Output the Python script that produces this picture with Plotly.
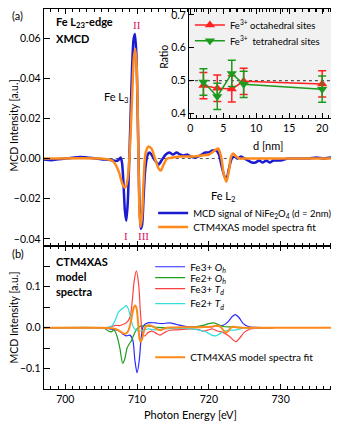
import plotly.graph_objects as go

# the page body adds an 8 px margin, so the figure is drawn 8 px in and 8 px smaller
OFF = 8
W, H = 339 - OFF, 425 - OFF

# ---------------- panel (a): measured XMCD and CTM4XAS fit ----------------
e_mcd = [697, 698, 699, 700, 701, 702, 703, 704, 705, 706, 706.5, 707, 707.4, 707.7,
         707.9, 708.1, 708.3, 708.5, 708.7, 708.9, 709.1, 709.3, 709.5, 709.7, 709.9,
         710.1, 710.3, 710.5, 710.7, 710.9, 711.1, 711.4, 711.7, 712.0, 712.5, 713.0,
         713.4, 714, 714.5, 715, 715.5, 716, 716.5, 717, 717.5, 718, 718.5, 719, 719.5,
         720, 720.5, 721, 721.4, 721.8, 722.2, 722.5, 722.8, 723.2, 723.6, 724, 724.5,
         725, 725.5, 726, 726.5, 727, 727.5, 728, 728.5, 729, 730, 731, 732, 733, 734,
         735, 736, 737, 738]
mcd = [-0.0005, -0.0008, -0.0004, 0.0, 0.0004, 0.0008, 0.0005, 0.0002, -0.0003, -0.0006,
       -0.0008, -0.0012, -0.0008, 0.0005, -0.002, -0.012, -0.026, -0.031, -0.022, -0.002,
       0.022, 0.045, 0.059, 0.062, 0.052, 0.020, -0.018, -0.035, -0.033, -0.020, -0.007,
       0.001, 0.003, 0.002, -0.001, -0.003, -0.001, 0.002, 0.003, 0.002, 0.003, 0.002,
       0.0015, 0.002, 0.001, 0.0005, 0.001, 0.002, 0.003, 0.003, 0.004, 0.004, 0.002,
       -0.004, -0.009, -0.0095, -0.005, 0.0, 0.001, 0.0, 0.001, 0.0, -0.001, -0.002,
       -0.002, -0.001, -0.002, -0.001, -0.002, -0.001, -0.001, 0.0, 0.0, 0.0, 0.0,
       0.0005, 0.0, 0.0005, 0.0]

e_fit = [697, 705, 706, 706.5, 707, 707.5, 708, 708.35, 708.7, 709.0, 709.3, 709.55,
         709.75, 709.95, 710.15, 710.35, 710.5, 710.7, 710.9, 711.2, 711.6, 712.0, 712.5,
         713.0, 713.3, 713.7, 714.2, 715, 716, 717, 718, 719, 720, 720.8, 721.3, 721.7,
         722.1, 722.45, 722.8, 723.1, 723.4, 723.8, 724.3, 725, 738]
fit = [0.0, 0.0, -0.0005, -0.001, -0.003, -0.007, -0.013, -0.0145, -0.010, 0.005, 0.030,
       0.050, 0.0546, 0.045, 0.010, -0.028, -0.034, -0.028, -0.012, 0.003, 0.006, 0.005,
       0.0, -0.005, -0.006, -0.003, 0.0, 0.0005, 0.001, 0.001, 0.001, 0.0015, 0.002, 0.004,
       0.005, 0.001, -0.008, -0.0115, -0.006, 0.001, 0.0025, 0.001, 0.0, 0.0, 0.0]

# ---------------- panel (b): CTM4XAS model components ----------------
e_fe3_oh = [697, 705, 706, 707, 707.5, 708, 708.5, 709, 709.4, 709.7, 710.0, 710.3, 710.6,
            710.9, 711.5, 712.5, 713.5, 714.5, 715.5, 716.5, 717.5, 719, 720, 721, 722,
            722.7, 723.3, 723.7, 724.2, 724.8, 725.5, 726.5, 729]
fe3_oh = [0.0, 0.0, -0.002, -0.005, -0.008, -0.015, -0.020, -0.018, -0.030, -0.080, -0.110,
          -0.080, -0.020, 0.005, 0.012, 0.012, 0.010, 0.012, 0.008, 0.004, 0.002, 0.001,
          0.002, 0.004, 0.006, 0.015, 0.028, 0.032, 0.025, 0.010, 0.003, 0.001, 0.0]

e_fe2_oh = [697, 705, 705.5, 706, 706.4, 706.8, 707.2, 707.6, 708.0, 708.3, 708.6, 708.9,
            709.2, 709.6, 710.0, 710.5, 711, 712, 713, 714, 716, 718, 719, 720, 720.6,
            721.3, 722, 723, 724, 725, 729]
fe2_oh = [0.0, 0.0, -0.002, -0.008, -0.010, -0.006, -0.020, -0.050, -0.087, -0.075, -0.050,
          -0.040, -0.032, -0.015, -0.002, 0.004, 0.005, 0.003, 0.001, 0.0, 0.0, 0.002,
          0.005, 0.010, 0.012, 0.008, 0.003, 0.002, 0.001, 0.0, 0.0]

e_fe3_td = [697, 705, 706, 706.5, 707, 707.5, 708, 708.5, 709, 709.3, 709.6, 709.9, 710.2,
            710.5, 710.8, 711.1, 711.5, 712, 712.5, 713.2, 713.8, 714.5, 715.5, 716.5,
            717.5, 718.5, 719.2, 719.8, 720.5, 721.2, 722, 722.8, 723.4, 723.8, 724.3, 725,
            725.8, 727, 729]
fe3_td = [0.0, 0.0, 0.001, 0.003, 0.006, 0.005, 0.008, 0.012, 0.025, 0.060, 0.115, 0.139,
          0.110, 0.030, -0.018, -0.020, -0.012, -0.008, -0.012, -0.018, -0.012, -0.006,
          -0.005, -0.004, -0.003, -0.004, -0.008, -0.006, -0.003, -0.008, -0.012, -0.020,
          -0.030, -0.034, -0.025, -0.010, -0.003, -0.001, 0.0]

e_fe2_td = [697, 705, 706, 706.5, 707, 707.4, 707.8, 708.2, 708.5, 708.8, 709.1, 709.4,
            709.8, 710.3, 710.8, 711.5, 712.5, 713.5, 714.5, 716, 717.5, 718.5, 719.2,
            719.8, 720.4, 720.9, 721.5, 722.2, 723, 723.8, 724.5, 725.5, 729]
fe2_td = [0.0, 0.0, 0.001, 0.005, 0.020, 0.038, 0.045, 0.050, 0.054, 0.045, 0.025, 0.005,
          -0.005, -0.008, -0.006, -0.003, -0.005, -0.003, -0.002, -0.001, -0.002, -0.005,
          -0.008, -0.012, -0.018, -0.020, -0.015, -0.008, -0.006, -0.005, -0.002, 0.0, 0.0]

# ---------------- inset: site ratio vs thickness ----------------
d_nm = [2, 4.1, 6.3, 8.1, 20]
ratio_oct = [0.485, 0.477, 0.475, 0.498, 0.490]
err_oct = [0.04, 0.04, 0.04, 0.04, 0.04]
ratio_tet = [0.496, 0.452, 0.522, 0.489, 0.474]
err_tet = [0.04, 0.04, 0.04, 0.04, 0.04]

FONT = "Lato"
BLUE = "#1a1ad0"
ORANGE = "#ff8a1c"
ROMAN = "#d8145c"


def px(x):
    # page pixel -> paper fraction
    return (x - OFF) / W


def py(y):
    return min(1, 1 - (y - OFF) / H)


fig = go.Figure()

# panel (a)
fig.add_trace(go.Scatter(x=e_mcd, y=mcd, mode="lines", xaxis="x", yaxis="y",
                         line=dict(color=BLUE, width=2.5, shape="spline", smoothing=0.6),
                         name="MCD signal of NiFe<sub>2</sub>O<sub>4</sub> (d = 2nm)",
                         legend="legend10"))
fig.add_trace(go.Scatter(x=e_fit, y=fit, mode="lines", xaxis="x", yaxis="y",
                         line=dict(color=ORANGE, width=2.5, shape="spline", smoothing=0.8),
                         name="CTM4XAS model spectra fit", legend="legend2"))

# panel (b)
comps = [
    (e_fe3_oh, fe3_oh, "#2a2aff", "Fe3+ <i>O<sub>h</sub></i>", "legend3"),
    (e_fe2_oh, fe2_oh, "#1e9e1e", "Fe2+ <i>O<sub>h</sub></i>", "legend4"),
    (e_fe3_td, fe3_td, "#ff4040", "Fe3+ <i>T<sub>d</sub></i>", "legend5"),
    (e_fe2_td, fe2_td, "#33dede", "Fe2+ <i>T<sub>d</sub></i>", "legend6"),
]
for ex, ey, col, nm, lg in comps:
    fig.add_trace(go.Scatter(x=ex, y=ey, mode="lines", xaxis="x2", yaxis="y2",
                             line=dict(color=col, width=1.2, shape="spline", smoothing=0.8),
                             name=nm, legend=lg))
fig.add_trace(go.Scatter(x=e_fit, y=fit, mode="lines", xaxis="x2", yaxis="y2",
                         line=dict(color=ORANGE, width=2, shape="spline", smoothing=0.8),
                         name="CTM4XAS model spectra fit", legend="legend7"))

# inset
fig.add_trace(go.Scatter(x=d_nm, y=ratio_oct, mode="lines+markers", xaxis="x3", yaxis="y3",
                         line=dict(color="#ff2020", width=1.5),
                         marker=dict(symbol="triangle-up", size=9, color="#ff2020"),
                         error_y=dict(type="data", array=err_oct, color="#ff2020",
                                      thickness=1.5, width=4),
                         name="Fe<sup>3+</sup> octahedral sites", legend="legend8"))
fig.add_trace(go.Scatter(x=d_nm, y=ratio_tet, mode="lines+markers", xaxis="x3", yaxis="y3",
                         line=dict(color="#1c9a1c", width=1.5),
                         marker=dict(symbol="triangle-down", size=9, color="#1c9a1c"),
                         error_y=dict(type="data", array=err_tet, color="#1c9a1c",
                                      thickness=1.5, width=4),
                         name="Fe<sup>3+</sup>  tetrahedral sites", legend="legend9"))

tickfont = dict(family=FONT, size=10.5, color="black")
frame = dict(showline=True, linecolor="black", linewidth=1, mirror="allticks",
             ticks="inside", tickcolor="black", showgrid=False, zeroline=False,
             tickfont=tickfont)

main_x = [px(42), px(338)]
fig.update_layout(
    width=W, height=H, margin=dict(l=0, r=0, t=0, b=0),
    paper_bgcolor="white", plot_bgcolor="rgba(0,0,0,0)", showlegend=True,
    font=dict(family=FONT, size=10.5, color="black"),
    xaxis=dict(domain=main_x, range=[697, 738], anchor="y", showticklabels=False,
               dtick=10, ticklen=5, minor=dict(dtick=1, ticklen=3, ticks="inside"), **frame),
    yaxis=dict(domain=[py(246), py(3)], range=[-0.0435, 0.0745], anchor="x",
               tickvals=[-0.04, -0.02, 0, 0.02, 0.04, 0.06], tickformat=".2f", ticklen=6,
               **frame),
    xaxis2=dict(domain=main_x, range=[697, 738], anchor="y2", dtick=10, ticklen=5,
                minor=dict(dtick=1, ticklen=3, ticks="inside"), **frame),
    yaxis2=dict(domain=[py(390), py(246)], range=[-0.15, 0.2], anchor="x2",
                tickvals=[-0.1, 0, 0.1], tickformat=".1f", ticklen=6,
                minor=dict(dtick=0.05, ticklen=6, ticks="inside"), **frame),
    xaxis3=dict(domain=[px(188), px(336)], range=[-0.2, 22.1], anchor="y3", dtick=5,
                ticklen=5, minor=dict(dtick=1, ticklen=3, ticks="inside"), **frame),
    yaxis3=dict(domain=[py(118), py(5)], range=[0.385, 0.718], anchor="x3", dtick=0.1,
                tickformat=".1f", ticklen=5, **frame),
)

# inset background and reference lines
fig.add_shape(type="rect", xref="x3 domain", yref="y3 domain", x0=0, x1=1, y0=0, y1=1,
              fillcolor="#f1f1f1", line_width=0, layer="below")
fig.add_shape(type="line", xref="x domain", yref="y", x0=0, x1=1, y0=0, y1=0,
              line=dict(color="#555555", width=1, dash="dot"), layer="below")
fig.add_shape(type="line", xref="x3 domain", yref="y3", x0=0, x1=1, y0=0.5, y1=0.5,
              line=dict(color="#555555", width=1.2, dash="dot"), layer="below")

# one legend per entry so the rows sit where the original has them
legend_pos = {
    "legend10": (152, 213, 9.5), "legend2": (152, 227, 10),
    "legend3": (149, 267, 10), "legend4": (149, 278, 10), "legend5": (149, 289, 10),
    "legend6": (149, 304, 10), "legend7": (149, 358, 10),
    "legend8": (189, 24, 9.5), "legend9": (189, 40, 9.5),
}
for key, (lx, ly, fs) in legend_pos.items():
    fig.update_layout({key: dict(x=px(lx), y=py(ly), xanchor="left", yanchor="middle",
                                 bgcolor="rgba(0,0,0,0)", borderwidth=0, itemwidth=30,
                                 font=dict(family=FONT, size=fs, color="black"))})

notes = [
    ("(a)", 8, 15, "left", FONT, "black", 0),
    ("(b)", 8, 254, "left", FONT, "black", 0),
    ("<b>Fe L<sub>23</sub>-edge</b>", 52, 22, "left", FONT, "black", 0),
    ("<b>XMCD</b>", 52, 38, "left", FONT, "black", 0),
    ("<b>CTM4XAS</b>", 52, 262, "left", FONT, "black", 0),
    ("<b>model</b>", 52, 277, "left", FONT, "black", 0),
    ("<b>spectra</b>", 52, 292, "left", FONT, "black", 0),
    ("Fe L<sub>3</sub>", 115, 97, "center", FONT, "black", 0),
    ("Fe L<sub>2</sub>", 223, 196, "center", FONT, "black", 0),
    ("II", 136, 24, "center", "Liberation Serif", ROMAN, 0),
    ("I", 125, 236, "center", "Liberation Serif", ROMAN, 0),
    ("III", 142, 236, "center", "Liberation Serif", ROMAN, 0),
    ("MCD Intensity [a.u.]", 12, 125, "center", FONT, "black", -90),
    ("MCD Intensity [a.u.]", 12, 318, "center", FONT, "black", -90),
    ("Photon Energy [eV]", 190, 415, "center", FONT, "black", 0),
    ("d [nm]", 268, 145, "center", FONT, "black", 0),
    ("Ratio", 163, 56, "center", FONT, "black", -90),
]
for txt, x, y, anc, fam, col, ang in notes:
    fig.add_annotation(text=txt, xref="paper", yref="paper", x=px(x), y=py(y),
                       xanchor=anc, yanchor="middle", showarrow=False, textangle=ang,
                       font=dict(family=fam, size=11 if ang == 0 else 10.5, color=col))

fig.write_html("out.html")
